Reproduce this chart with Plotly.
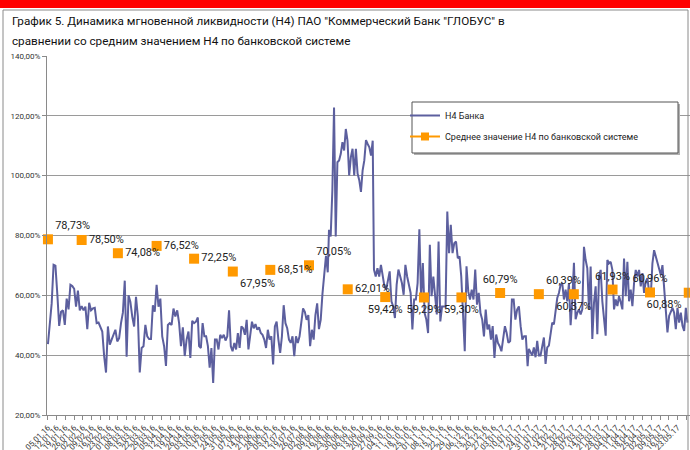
import pandas as pd
import plotly.graph_objects as go

# Н4 Банка in five stretches (start date, end date)
h4_jan_may16 = [43.7, 51.8, 57.3, 70.2, 69.9, 60.5, 49.8, 54.5, 55.0, 50.1, 58.9, 55.3, 63.5, 63.1, 62.2,
                56.2, 61.6, 55.0, 56.4, 55.0, 56.2, 48.7, 57.5, 55.0, 55.6, 55.8, 50.7, 50.9, 49.0, 47.9,
                39.7, 34.2, 49.6, 43.5, 45.2, 46.8, 48.5, 44.6, 45.7, 50.7, 54.2, 64.9, 39.5, 60.0, 57.8,
                52.9, 49.6, 59.5, 52.9, 34.2, 42.4, 43.0, 50.1, 46.3, 45.4, 45.4, 56.7, 54.5, 63.5, 56.2,
                58.9, 46.3, 43.0, 36.4, 50.1, 50.7, 50.1, 55.6, 52.9, 55.0, 50.7, 43.0, 49.3, 39.7, 45.2,
                47.9, 39.1, 51.5, 50.7, 51.2, 52.6]
h4_may_aug16 = [43.0, 42.4, 50.7, 46.3, 46.3, 43.0, 35.8, 42.4, 30.7, 45.2, 45.2, 41.9, 46.8, 45.7, 46.8,
                44.9, 46.3, 55.0, 43.0, 41.3, 44.1, 41.9, 47.4, 42.4, 49.6, 49.0, 46.8, 51.8, 41.9, 46.8,
                51.2, 49.0, 50.4, 48.5, 49.3, 47.4, 46.8, 45.2, 42.4, 48.5, 45.2, 46.3, 36.9, 49.6, 51.2,
                45.2, 40.8, 46.3, 56.7, 50.7, 49.0, 45.2, 44.1, 46.3, 39.7, 46.3, 44.1, 46.3, 51.8, 55.6,
                54.5, 51.8, 53.4, 43.0, 48.5, 45.2, 53.4, 57.3, 48.7, 51.8, 60.5, 67.7, 73.2, 67.7]
h4_aug_sep16 = [81.9, 79.7, 95.1, 122.8, 79.7, 104.5, 105.1, 107.3, 111.2, 108.4, 115.6, 111.7, 100.1,
                106.2, 109.0, 100.1, 109.0, 100.7, 98.5, 94.6, 101.8, 105.1, 111.9, 110.6, 109.5, 106.7,
                111.7]
h4_sep16_jan17 = [68.6, 66.3, 69.1, 66.3, 70.2, 66.3, 63.0, 61.9, 64.7, 68.0, 58.0, 56.3, 52.4, 63.6, 68.6,
                  66.3, 64.1, 60.2, 70.2, 66.3, 63.0, 60.8, 48.6, 58.6, 58.6, 64.1, 82.1, 58.6, 70.8, 54.1,
                  51.9, 47.4, 76.9, 59.7, 66.3, 58.6, 53.6, 78.0, 51.3, 56.3, 56.3, 56.3, 88.0, 74.1, 83.6,
                  74.1, 77.4, 78.0, 72.4, 73.0, 66.3, 55.2, 41.3, 69.7, 61.3, 58.6, 61.9, 58.6, 68.6, 56.9,
                  60.8, 54.1, 51.9, 46.3, 55.2, 48.6, 50.2, 45.2, 49.7, 39.1, 46.9, 44.1, 43.0, 41.3, 45.2,
                  49.7, 47.4, 44.1, 44.7, 58.6, 58.6, 51.9, 55.2, 56.3, 49.7, 45.2, 46.3, 46.3, 36.3]
h4_jan_may17 = [42.1, 41.0, 39.9, 42.6, 39.3, 44.8, 39.9, 39.9, 43.7, 45.9, 37.1, 42.6, 43.2, 47.0, 50.9,
                50.3, 54.7, 59.1, 60.8, 63.5, 64.1, 58.6, 61.9, 58.0, 64.1, 50.0, 58.6, 70.9, 52.0, 54.2,
                55.3, 53.6, 55.3, 76.2, 71.8, 69.0, 55.3, 69.6, 45.4, 57.5, 63.0, 47.0, 66.3, 68.5, 58.0,
                52.0, 46.5, 71.8, 70.7, 71.2, 68.5, 55.3, 58.6, 56.4, 59.7, 57.7, 55.3, 72.3, 59.7, 71.2,
                58.0, 61.9, 56.4, 64.1, 68.5, 66.3, 68.5, 63.0, 67.4, 60.8, 64.6, 65.7, 61.3, 59.7, 70.7,
                75.1, 72.9, 70.7, 68.5, 66.8, 70.1, 63.0, 54.2, 47.6, 53.1, 54.2, 55.8, 54.2, 48.7, 55.8,
                50.9, 54.2, 49.8, 48.1, 55.8, 50.9]

stretches = [
    ("2016-01-05", "2016-05-04", h4_jan_may16),
    ("2016-05-05", "2016-08-16", h4_may_aug16),
    ("2016-08-17", "2016-09-21", h4_aug_sep16),
    ("2016-09-22", "2017-01-23", h4_sep16_jan17),
    ("2017-01-24", "2017-05-31", h4_jan_may17),
]

# Среднее значение Н4 по банковской системе (monthly)
avg_dates = ["2016-01-05", "2016-02-01", "2016-03-01", "2016-04-01", "2016-05-01", "2016-06-01",
             "2016-07-01", "2016-08-01", "2016-09-01", "2016-10-01", "2016-11-01", "2016-12-01",
             "2017-01-01", "2017-02-01", "2017-03-01", "2017-04-01", "2017-05-01", "2017-06-01"]
avg_values = [78.73, 78.50, 74.08, 76.52, 72.25, 67.95, 68.51, 70.05, 62.01, 59.42, 59.29, 59.30,
              60.79, 60.39, 60.37, 61.93, 60.96, 60.88]
avg_label_pos = ["top right", "middle right", "middle right", "middle right", "middle right",
                 "bottom right", "middle right", "top right", "middle right", "bottom center",
                 "bottom center", "bottom center", "top center", "top right", "bottom center",
                 "top center", "top center", "bottom left"]

x_line, y_line = [], []
for start, end, vals in stretches:
    x_line += list(pd.date_range(start, end, periods=len(vals)))
    y_line += vals

LINE_COL = "#5c5f9e"
MARK_COL = "#ff9900"
FONT = "Roboto"

# plot area in pixels: left 47, right 690, top 56, bottom 415
def px(x):
    return (x - 47) / 643

def py(y):
    return (415 - y) / 359

fig = go.Figure()

fig.add_trace(go.Scatter(
    x=x_line, y=y_line, mode="lines",
    line=dict(color=LINE_COL, width=2),
    name="Н4 Банка", legendgroup="a",
))

fig.add_trace(go.Scatter(
    x=pd.to_datetime(avg_dates), y=avg_values,
    mode="markers+text",
    marker=dict(symbol="square", size=10, color=MARK_COL),
    texttemplate="%{y:.2f}%", textposition=avg_label_pos,
    textfont=dict(size=11, color="#222222", family=FONT),
    cliponaxis=False, showlegend=False,
))

# legend entry drawn with line + marker like the original
fig.add_trace(go.Scatter(
    x=[None], y=[None], mode="lines+markers",
    line=dict(color=MARK_COL, width=2),
    marker=dict(symbol="square", size=8, color=MARK_COL),
    name="Среднее значение Н4 по банковской системе", legendgroup="b",
))

shapes = [
    # red strip on top
    dict(type="rect", xref="paper", yref="paper", x0=px(-5), x1=px(700), y0=py(0), y1=py(8),
         fillcolor="#ff0000", line=dict(width=0), layer="above"),
    # outer frame
    dict(type="rect", xref="paper", yref="paper", x0=px(3), x1=px(688), y0=py(10), y1=py(470),
         fillcolor="rgba(0,0,0,0)", line=dict(color="#8a8a8a", width=1), layer="above"),
    # legend shadow + box
    dict(type="rect", xref="paper", yref="paper", x0=px(414), x1=px(680), y0=py(104), y1=py(155),
         fillcolor="#b0b0b0", line=dict(width=0), layer="above"),
    dict(type="rect", xref="paper", yref="paper", x0=px(412), x1=px(678), y0=py(102), y1=py(153),
         fillcolor="white", line=dict(color="#555555", width=1), layer="above"),
]

annotations = [
    dict(text='График 5. Динамика мгновенной ликвидности (Н4) ПАО "Коммерческий Банк "ГЛОБУС" в',
         xref="paper", yref="paper", x=px(10), y=py(21), xanchor="left", yanchor="middle",
         showarrow=False, font=dict(size=11.7, color="#111111", family=FONT)),
    dict(text="сравнении со средним значением Н4 по банковской системе",
         xref="paper", yref="paper", x=px(10), y=py(41), xanchor="left", yanchor="middle",
         showarrow=False, font=dict(size=11.7, color="#111111", family=FONT)),
]

fig.update_layout(
    width=690, height=450,
    margin=dict(l=47, r=0, t=56, b=35),
    paper_bgcolor="white", plot_bgcolor="white",
    separators=", ",
    font=dict(family=FONT, size=8, color="#333333"),
    shapes=shapes, annotations=annotations,
    showlegend=True,
    legend=dict(x=px(405), y=py(101), xanchor="left", yanchor="top",
                bgcolor="rgba(0,0,0,0)", borderwidth=0, tracegroupgap=2,
                font=dict(size=9, color="#222222", family=FONT)),
)

fig.update_xaxes(
    type="date", range=["2016-01-04 06:00", "2017-06-02 00:00"],
    tick0="2016-01-05", dtick=7 * 86400000, tickformat="%d.%m.%y",
    tickangle=-45, ticks="outside", ticklen=4, tickcolor="#8a8a8a",
    showline=True, linecolor="#8a8a8a", linewidth=1,
    showgrid=False, automargin=False, tickfont=dict(size=8, color="#333333"),
)
fig.update_yaxes(
    range=[20, 140], dtick=20, tickformat=".2f", ticksuffix="%",
    ticks="outside", ticklen=4, tickcolor="#8a8a8a",
    showline=True, linecolor="#8a8a8a", linewidth=1,
    showgrid=True, gridcolor="#9a9a9a", gridwidth=1, zeroline=False,
    automargin=False, tickfont=dict(size=8, color="#333333"),
)

# page has a default body margin; drop it so the figure sits at the window's corner
fig.write_html("out.html", config={"displayModeBar": False},
               post_script="document.body.style.margin='0';document.body.style.overflow='hidden';")
